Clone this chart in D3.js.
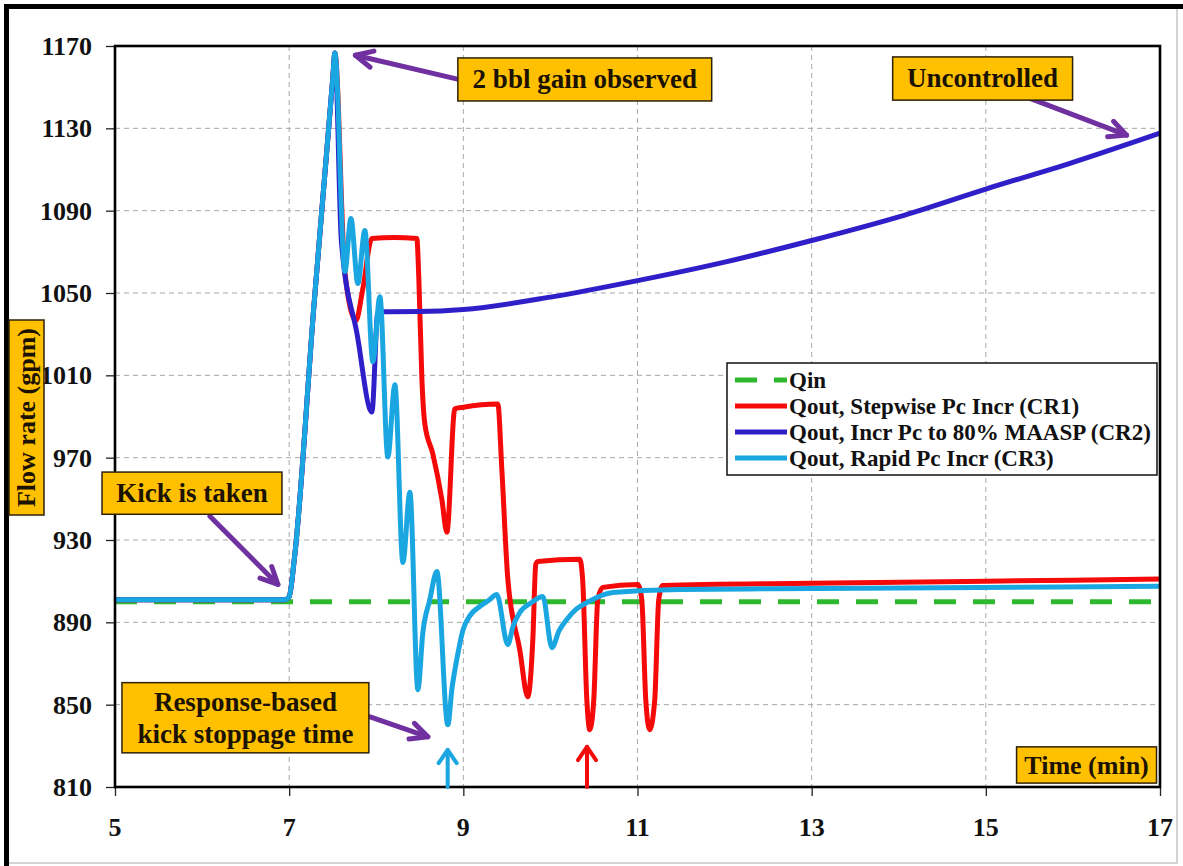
<!DOCTYPE html>
<html>
<head>
<meta charset="utf-8">
<script src="https://cdn.jsdelivr.net/npm/d3@7"></script>
<style>
  html, body { margin: 0; padding: 0; background: #fff; }
  svg { display: block; }
  text { font-family: "Liberation Serif", "Times New Roman", serif; font-weight: bold; }
</style>
</head>
<body>
<svg id="chart" width="1183" height="866"></svg>
<script>
// ---- data ---------------------------------------------------------------
const xTicks = [5, 7, 9, 11, 13, 15, 17];
const yTicks = [810, 850, 890, 930, 970, 1010, 1050, 1090, 1130, 1170];

const seriesNames = [
  "Qin",
  "Qout, Stepwise Pc Incr (CR1)",
  "Qout, Incr Pc to 80% MAASP (CR2)",
  "Qout, Rapid Pc Incr (CR3)"
];

// time (min), flow rate (gpm)
const qin = [[5, 900], [17, 900]];

const qoutCR1 = [
  [5, 901], [6.95, 901], [7.0, 902.5], [7.06, 921], [7.284, 1043.6], [7.445, 1125.7],
  [7.502, 1155], [7.525, 1166.6], [7.64, 1060], [7.766, 1036.6], [7.846, 1052.1],
  [7.95, 1076.5], [8.2, 1077], [8.466, 1076.5], [8.489, 1057], [8.524, 1008.3],
  [8.558, 986.4], [8.65, 971.8], [8.753, 949.8], [8.811, 933.8], [8.902, 993.7],
  [9.0, 994.5], [9.396, 996.1], [9.442, 964.4], [9.511, 910.9], [9.648, 876.7],
  [9.74, 853.8], [9.798, 881.6], [9.832, 918.2], [9.855, 919.6], [10.337, 920.6],
  [10.37, 910.9], [10.418, 852.4], [10.452, 837.8], [10.498, 852.4], [10.544, 901.1],
  [10.601, 907], [11.003, 908.4], [11.049, 901.1], [11.095, 852.4], [11.14, 837.8],
  [11.198, 852.4], [11.244, 901.1], [11.29, 907.9], [13, 909], [15, 910], [17, 911]
];

const qoutCR2 = [
  [5, 901], [6.95, 901], [7.0, 902.5], [7.06, 921], [7.284, 1043.6], [7.445, 1125.7],
  [7.502, 1155], [7.525, 1166.6], [7.6, 1075], [7.78, 1030], [7.95, 992.2],
  [8.019, 1040.9], [8.5, 1041], [9, 1042], [10, 1048], [11, 1056], [12, 1065],
  [13, 1075.5], [14, 1087], [15, 1100.5], [16, 1113.5], [17, 1127.7]
];

const qoutCR3 = [
  [5, 901], [6.95, 901], [7.0, 902.5], [7.06, 921], [7.284, 1043.6], [7.445, 1125.7],
  [7.502, 1155], [7.525, 1166.6], [7.64, 1060.4], [7.709, 1086.2], [7.789, 1054.6],
  [7.869, 1080.4], [7.961, 1016.6], [8.042, 1048.2], [8.133, 970.3], [8.214, 1005.4],
  [8.306, 919.1], [8.386, 953.2], [8.478, 857.3], [8.535, 885], [8.615, 901],
  [8.696, 914.7], [8.822, 840.2], [8.87, 858], [8.925, 872], [8.994, 886],
  [9.08, 893.5], [9.189, 897.7], [9.3, 901], [9.384, 903.5], [9.511, 879.2],
  [9.57, 888], [9.648, 894.8], [9.78, 899.5], [9.913, 902.6], [10.017, 877.7],
  [10.1, 886], [10.188, 891.4], [10.3, 896.5], [10.418, 899.6], [10.716, 904.5],
  [11.485, 906], [12.5, 906.3], [14.5, 906.8], [17, 907.5]
];

const seriesColors = ["#2eb82e", "#f50a0a", "#2f1fc9", "#1aa6e0"];

// kick stoppage times marked under the axis (min)
const stopTimeCR3 = 8.82;
const stopTimeCR1 = 10.42;

// ---- layout -------------------------------------------------------------
const svg = d3.select("#chart");
const plot = { left: 115, right: 1160, top: 46, bottom: 787 };

const x = d3.scaleLinear().domain([5, 17]).range([plot.left, plot.right]);
const y = d3.scaleLinear().domain([810, 1170]).range([plot.bottom, plot.top]);

// outer picture frame
svg.append("rect").attr("x", 6).attr("y", 6).attr("width", 1171).attr("height", 857)
  .attr("fill", "#fff").attr("stroke", "#b8b8b8").attr("stroke-width", 1.2);
svg.append("line").attr("x1", 4).attr("x2", 1183).attr("y1", 6.5).attr("y2", 6.5)
  .attr("stroke", "#000").attr("stroke-width", 5);
svg.append("line").attr("x1", 6.5).attr("x2", 6.5).attr("y1", 4).attr("y2", 866)
  .attr("stroke", "#000").attr("stroke-width", 5);

// grid
const grid = svg.append("g");
grid.selectAll(".hg").data(yTicks.filter(d => d > 810 && d < 1170)).join("line")
  .attr("x1", plot.left).attr("x2", plot.right)
  .attr("y1", d => y(d)).attr("y2", d => y(d))
  .attr("stroke", "#a8a8a8").attr("stroke-width", 1).attr("stroke-dasharray", "5,4");
grid.selectAll(".vg").data(xTicks.filter(d => d > 5 && d < 17)).join("line")
  .attr("x1", d => x(d)).attr("x2", d => x(d))
  .attr("y1", plot.top).attr("y2", plot.bottom)
  .attr("stroke", "#a8a8a8").attr("stroke-width", 1).attr("stroke-dasharray", "5,4");

// axes (ticks outside, labels drawn separately)
const xAxis = d3.axisBottom(x).tickValues(xTicks).tickSize(9).tickFormat("");
const yAxis = d3.axisLeft(y).tickValues(yTicks).tickSize(9).tickFormat("");
svg.append("g").attr("transform", `translate(0,${plot.bottom})`).call(xAxis)
  .call(g => g.select(".domain").remove())
  .call(g => g.selectAll("line").attr("stroke", "#222").attr("stroke-width", 1.3));
svg.append("g").attr("transform", `translate(${plot.left},0)`).call(yAxis)
  .call(g => g.select(".domain").remove())
  .call(g => g.selectAll("line").attr("stroke", "#222").attr("stroke-width", 1.3));

// tick labels
svg.append("g").selectAll("text").data(yTicks).join("text")
  .attr("x", 92).attr("y", d => y(d)).attr("dy", "0.35em")
  .attr("text-anchor", "end").attr("font-size", 26).attr("fill", "#111")
  .text(d => d);
svg.append("g").selectAll("text").data(xTicks).join("text")
  .attr("x", d => x(d)).attr("y", 836)
  .attr("text-anchor", "middle").attr("font-size", 26).attr("fill", "#111")
  .text(d => d);

// series
const line = d3.line().x(d => x(d[0])).y(d => y(d[1])).curve(d3.curveMonotoneX);
const lineStraight = d3.line().x(d => x(d[0])).y(d => y(d[1]));
svg.append("clipPath").attr("id", "plotClip").append("rect")
  .attr("x", plot.left).attr("y", plot.top - 3)
  .attr("width", plot.right - plot.left).attr("height", plot.bottom - plot.top + 3);
const lines = svg.append("g").attr("clip-path", "url(#plotClip)");

lines.append("path").datum(qin).attr("d", lineStraight)
  .attr("fill", "none").attr("stroke", seriesColors[0]).attr("stroke-width", 5)
  .attr("stroke-dasharray", "22,17");
[qoutCR1, qoutCR2, qoutCR3].forEach((s, i) => {
  lines.append("path").datum(s).attr("d", line)
    .attr("fill", "none").attr("stroke", seriesColors[i + 1])
    .attr("stroke-width", 5).attr("stroke-linejoin", "round").attr("stroke-linecap", "round");
});

// plot frame
svg.append("rect").attr("x", plot.left).attr("y", plot.top)
  .attr("width", plot.right - plot.left).attr("height", plot.bottom - plot.top)
  .attr("fill", "none").attr("stroke", "#000").attr("stroke-width", 2.6);

// legend
const lg = svg.append("g");
lg.append("rect").attr("x", 727).attr("y", 363).attr("width", 430).attr("height", 112)
  .attr("fill", "#fff").attr("stroke", "#111").attr("stroke-width", 1.5);
seriesNames.forEach((name, i) => {
  const ly = 380 + i * 26;
  lg.append("line").attr("x1", 735).attr("x2", 787).attr("y1", ly).attr("y2", ly)
    .attr("stroke", seriesColors[i]).attr("stroke-width", 5)
    .attr("stroke-dasharray", i === 0 ? "22,17" : null);
  lg.append("text").attr("x", 789).attr("y", ly).attr("dy", "0.35em")
    .attr("font-size", 23).attr("fill", "#111").text(name);
});

// annotation helpers
const purple = "#7030a0";
function arrow(x1, y1, x2, y2, color, width, len, half) {
  const a = Math.atan2(y2 - y1, x2 - x1);
  const p1 = [x2 - len * Math.cos(a - half), y2 - len * Math.sin(a - half)];
  const p2 = [x2 - len * Math.cos(a + half), y2 - len * Math.sin(a + half)];
  const g = svg.append("g").attr("fill", "none").attr("stroke", color)
    .attr("stroke-width", width).attr("stroke-linecap", "round").attr("stroke-linejoin", "round");
  g.append("line").attr("x1", x1).attr("y1", y1).attr("x2", x2).attr("y2", y2);
  g.append("path").attr("d", `M${p1[0]},${p1[1]}L${x2},${y2}L${p2[0]},${p2[1]}`);
}
function callout(x0, y0, x1, y1, lines, size) {
  const g = svg.append("g");
  g.append("rect").attr("x", x0).attr("y", y0).attr("width", x1 - x0).attr("height", y1 - y0)
    .attr("fill", "#ffc000").attr("stroke", "#2e2208").attr("stroke-width", 1.5);
  const cx = (x0 + x1) / 2, cy = (y0 + y1) / 2, lh = 32;
  lines.forEach((t, i) => {
    g.append("text").attr("x", cx).attr("y", cy + (i - (lines.length - 1) / 2) * lh)
      .attr("dy", "0.33em").attr("text-anchor", "middle")
      .attr("font-size", size).attr("fill", "#1c1200").text(t);
  });
}

// callout arrows (placed in data coordinates)
arrow(x(8.92), y(1154), x(7.76), y(1165.5), purple, 5, 19, 0.45);
arrow(x(15.5), y(1144.7), x(16.616), y(1126.7), purple, 5, 19, 0.45);
arrow(x(6.09), y(941.5), x(6.871), y(908.4), purple, 5, 19, 0.45);
arrow(x(7.93), y(844.1), x(8.593), y(834.4), purple, 5, 19, 0.45);

// callout boxes
callout(x(8.937), y(1164.2), x(11.852), y(1143.3), ["2 bbl gain observed"], 27);
callout(x(13.93), y(1164.7), x(15.996), y(1143.7), ["Uncontrolled"], 27);
callout(x(4.851), y(963), x(6.917), y(942.5), ["Kick is taken"], 27);
callout(x(5.08), y(860.7), x(7.915), y(826.6), ["Response-based", "kick stoppage time"], 27);
callout(x(15.353), y(829.5), x(16.96), y(811.9), ["Time (min)"], 26);

// stoppage-time markers
arrow(x(stopTimeCR3), y(810), x(stopTimeCR3), y(828), seriesColors[3], 4, 16, 0.6);
arrow(x(stopTimeCR1), y(810), x(stopTimeCR1), y(829.5), seriesColors[1], 4, 16, 0.6);

// y-axis title
const yl = svg.append("g");
yl.append("rect").attr("x", 9).attr("y", 320).attr("width", 35).attr("height", 195)
  .attr("fill", "#ffc000").attr("stroke", "#2e2208").attr("stroke-width", 1.5);
yl.append("text").attr("transform", "translate(26.5,417.5) rotate(-90)")
  .attr("dy", "0.33em").attr("text-anchor", "middle")
  .attr("font-size", 26).attr("fill", "#1c1200").text("Flow rate (gpm)");
</script>
</body>
</html>
